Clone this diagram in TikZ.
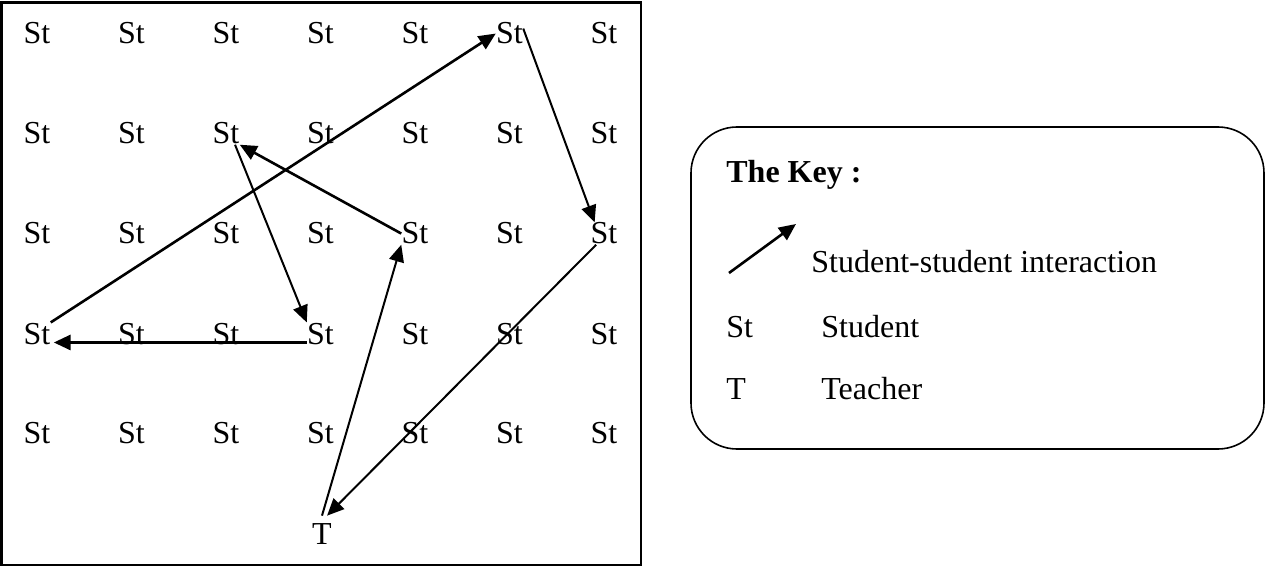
\documentclass[tikz,border=0pt]{standalone}
\usepackage{fontspec}
\setmainfont{Liberation Serif}
\usetikzlibrary{arrows.meta,calc}
\begin{document}
\begin{tikzpicture}[x=0.5pt,y=-0.5pt,
  seat/.style={font=\fontsize{16}{19}\selectfont, inner sep=0pt, anchor=base},
  teacher/.style={font=\fontsize{16}{19}\selectfont, inner sep=4pt, anchor=base},
  keytext/.style={font=\fontsize{16}{19}\selectfont, inner sep=0pt, anchor=base west},
  link/.style={line width=1.3pt, -{Triangle[length=8.5pt,width=7.5pt]}},
  thinlink/.style={line width=1pt, -{Triangle[length=8.5pt,width=7.5pt]}},
  frame/.style={line width=1.1pt},
  keybox/.style={line width=0.8pt, rounded corners=23pt}]
\useasboundingbox (0,0) rectangle (1266,567);

% classroom frame
\draw[frame] (1.5,2.5) rectangle (641,565);

% seating grid: five rows of seven students
\foreach \r in {1,...,5}{
  \foreach \c in {1,...,7}{
    \node[seat] (s\r\c) at ({37+94.5*(\c-1)}, {44+100*(\r-1)}) {St};
  }
}
\node[teacher] (T) at (322,545) {T};

% interaction path
\draw[link] (s41.north east) -- (s16.west);
\draw[thinlink] (s16.20) -- (s37.130);
\draw[thinlink] (s37.235) -- (T.75);
\draw[thinlink] (T.north) -- (s35.south west);
\draw[link] (s35.west) -- (s23.south east);
\draw[thinlink] (s23.309) -- (s44.north west);
\draw[link, line width=1.6pt, shorten >=1.5pt] (s44.213) -- (s41.327);

% legend
\draw[keybox] (691,127) rectangle (1264,449);
\node[keytext] (keytitle) at (726,183) {\textbf{The Key :}};
\coordinate (ka) at (729,273);
\coordinate (kb) at (796,224);
\draw[link] (ka) -- (kb);
\node[keytext] (klink) at (811,273) {Student-student interaction};
\node[keytext] (kst) at (726,337) {St};
\node[keytext] (kstudent) at (821,337) {Student};
\node[keytext] (kt) at (726,400) {T};
\node[keytext] (kteacher) at (821,400) {Teacher};
\end{tikzpicture}
\end{document}
